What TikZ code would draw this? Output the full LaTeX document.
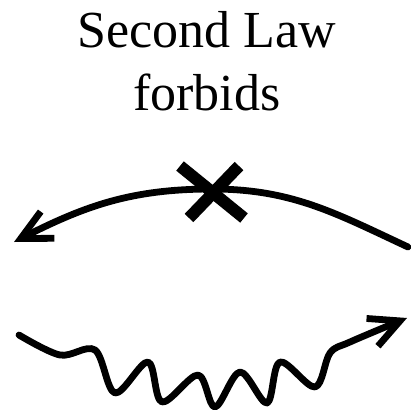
\documentclass[tikz,border=0pt]{standalone}
\usepackage{fontspec}
\setmainfont{Liberation Serif}
\usetikzlibrary{arrows.meta,calc}

\begin{document}
\begin{tikzpicture}[x=1pt,y=-1pt,line cap=round,line join=round]
\useasboundingbox (0,0) rectangle (411,412);
\tikzset{
  stroke/.style={line width=6.8pt},
  barb/.style={-{Straight Barb[length=30pt 0,width=30pt 0,line width=6.8pt]}},
  cross/.style={line width=12pt,line cap=butt}
}
\node[anchor=north,inner sep=0pt,align=center,font=\fontsize{52}{63}\selectfont] (title) at (207,11) {Second Law\\forbids};
% reverse process, crossed out
\coordinate (rstart) at (408,247);
\coordinate (rtop) at (212,189);
\coordinate (rend) at (14,242);
\draw[stroke,barb] (rstart) to[out=155,in=0] (rtop) to[out=180,in=27] (rend);
\coordinate (xc) at (212,192);
\draw[cross] ($(xc)+(-32,-26)$) -- ($(xc)+(32,26)$);
\draw[cross] ($(xc)+(27,-26)$) -- ($(xc)+(-23,26)$);
% allowed process
\draw[stroke,barb] plot[smooth,tension=0.55] coordinates {(19,335) (60,355) (95,350) (115,393) (148,362) (162,402) (198,375) (215,407) (240,372) (267,403) (280,362) (315,387) (330,353) (350,342) (407,318)};
\end{tikzpicture}
\end{document}
